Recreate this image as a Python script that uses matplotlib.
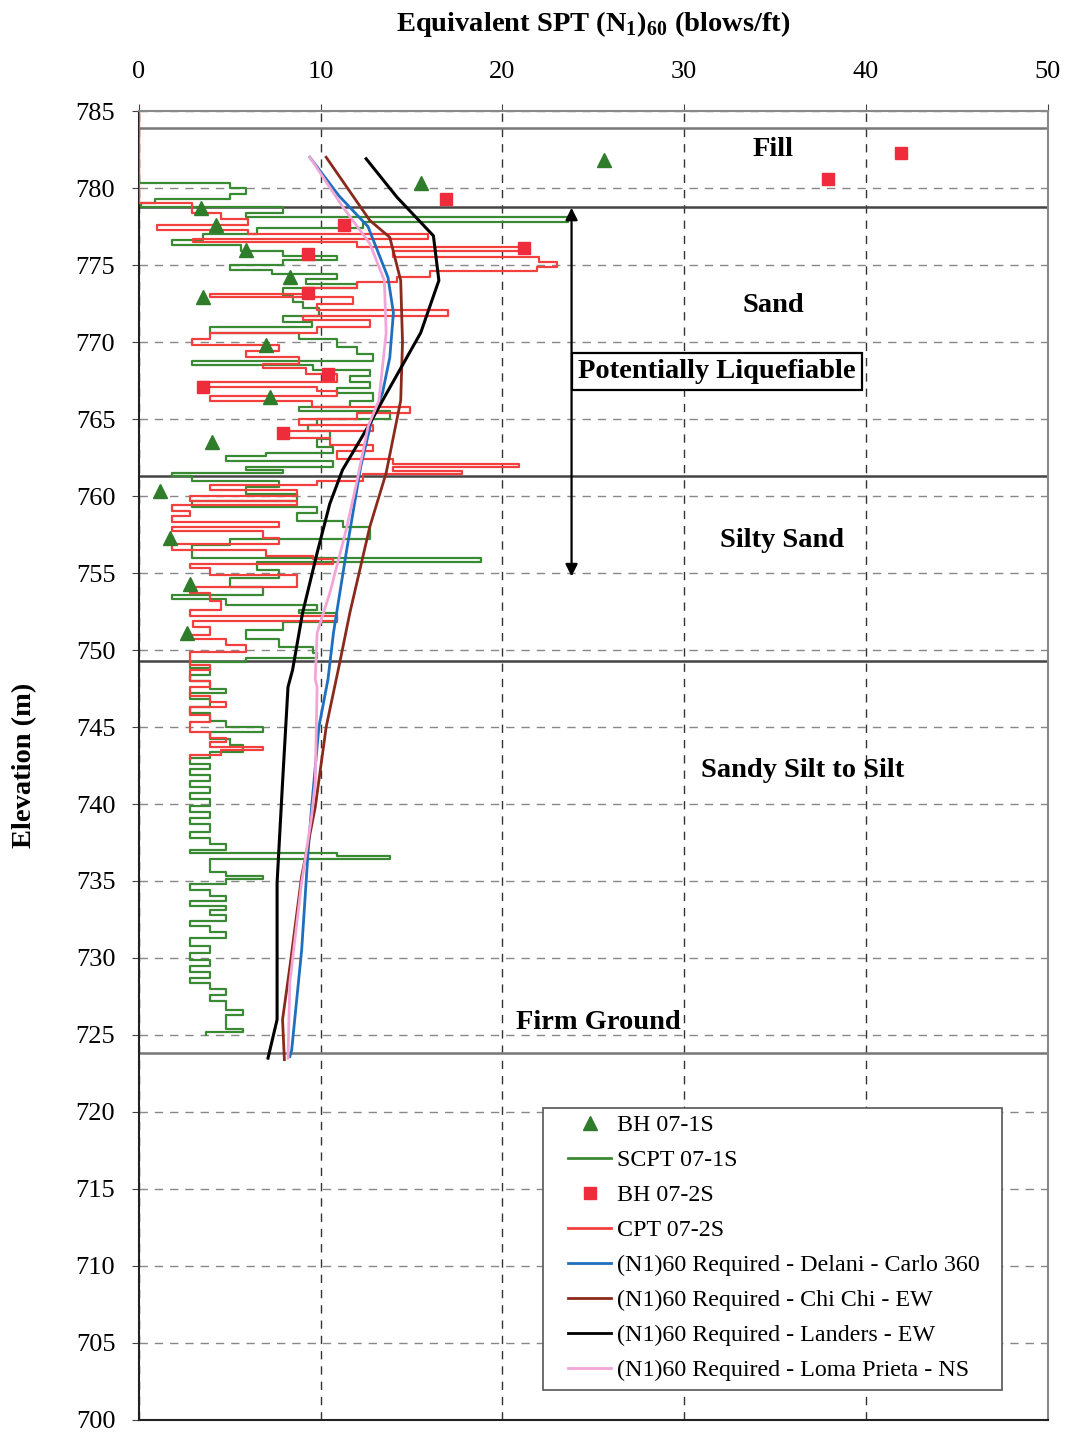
import numpy as np
import matplotlib
matplotlib.use('Agg')
import matplotlib.pyplot as plt
from matplotlib.lines import Line2D
from matplotlib.patches import Rectangle

plt.rcParams['font.family'] = ['Liberation Serif', 'DejaVu Serif']
plt.rcParams['mathtext.fontset'] = 'custom'
plt.rcParams['mathtext.rm'] = 'Liberation Serif:bold'
plt.rcParams['mathtext.bf'] = 'Liberation Serif:bold'

# borehole SPT points (value, elevation)
bh1_val = [25.6, 15.5, 3.4, 4.25, 5.9, 8.3, 3.5, 7.0, 7.2, 4.0, 1.15, 1.7, 2.8, 2.65]
bh1_elev = [781.8, 780.3, 778.7, 777.6, 776.0, 774.2, 772.9, 769.8, 766.4, 763.5, 760.3, 757.3, 754.3, 751.1]
bh2_val = [41.9, 37.9, 16.9, 11.3, 21.2, 9.3, 9.3, 10.4, 3.5, 7.9]
bh2_elev = [782.3, 780.6, 779.3, 777.6, 776.1, 775.7, 773.2, 767.9, 767.1, 764.1]

# SCPT 07-1S step profile
scpt_elev = [780.5, 780.3, 780.0, 779.6, 779.3, 779.0, 778.8, 778.4, 778.1, 777.8,
             777.4, 777.0, 776.6, 776.3, 775.9, 775.6, 775.3, 775.0, 774.7, 774.4,
             774.1, 773.8, 773.5, 773.0, 772.6, 772.2, 771.7, 771.3, 771.0, 770.6,
             770.2, 769.7, 769.2, 768.8, 768.5, 768.2, 767.8, 767.4, 767.0, 766.7,
             766.2, 765.8, 765.5, 765.0, 764.6, 764.2, 763.7, 763.2, 762.8, 762.6,
             762.3, 761.9, 761.7, 761.5, 761.3, 761.0, 760.6, 760.1, 759.7, 759.3,
             758.9, 758.4, 758.0, 757.2, 756.8, 756.0, 755.7, 755.2, 754.7, 754.1,
             753.6, 753.3, 752.9, 752.6, 752.4, 751.8, 751.3, 750.7, 750.2, 749.8,
             749.5, 749.2, 748.8, 748.4, 748.0, 747.5, 747.2, 746.8, 746.3, 745.9,
             745.4, 745.0, 744.7, 744.2, 743.8, 743.4, 743.0, 742.6, 742.3, 741.9,
             741.5, 741.1, 740.7, 740.3, 739.9, 739.5, 739.1, 738.7, 738.2, 737.8,
             737.4, 737.0, 736.8, 736.6, 736.4, 735.6, 735.3, 735.1, 734.8, 734.4,
             734.0, 733.7, 733.4, 733.1, 732.8, 732.4, 732.1, 731.7, 731.3, 730.8,
             730.3, 729.9, 729.5, 729.1, 728.7, 728.4, 728.0, 727.6, 727.2, 726.6,
             726.3, 725.4, 725.2, 725.0]
scpt_val = [0.0, 5.0, 5.9, 5.0, 0.9, 0.1, 7.9, 5.9, 23.6, 12.3,
            6.5, 3.5, 1.8, 5.6, 7.9, 10.9, 7.9, 5.0, 7.3, 10.9,
            9.2, 12.0, 7.9, 8.5, 9.0, 9.9, 7.9, 9.5, 3.9, 8.8,
            10.9, 12.0, 12.9, 2.9, 9.6, 12.7, 11.6, 12.7, 10.9, 12.9,
            11.6, 8.8, 13.8, 9.8, 9.3, 10.5, 9.8, 10.7, 7.0, 4.8,
            10.7, 5.9, 7.9, 1.8, 2.9, 7.7, 5.9, 8.7, 2.9, 9.8,
            8.7, 11.2, 12.7, 5.0, 2.9, 18.8, 6.5, 7.7, 5.0, 6.8,
            1.8, 4.8, 9.8, 8.8, 10.9, 7.9, 5.9, 7.7, 9.6, 9.8,
            5.9, 2.8, 3.9, 2.8, 3.9, 4.8, 2.8, 3.9, 2.8, 3.9,
            4.8, 6.8, 3.9, 5.0, 5.7, 3.9, 2.8, 3.9, 2.8, 3.9,
            2.8, 3.9, 2.8, 3.9, 2.8, 3.9, 2.8, 3.9, 2.8, 3.9,
            4.8, 2.8, 10.9, 13.8, 3.9, 4.8, 6.8, 4.8, 2.8, 3.9,
            4.8, 2.8, 4.8, 3.9, 4.8, 2.8, 3.9, 4.8, 2.8, 3.9,
            2.8, 3.9, 2.8, 3.9, 2.8, 3.9, 4.8, 3.9, 4.8, 5.7,
            4.8, 5.7, 3.7, 3.7]

# CPT 07-2S step profile
cpt_elev = [785.0, 779.0, 778.4, 778.0, 777.6, 777.3, 777.0, 776.7, 776.5, 776.2,
            775.9, 775.5, 775.2, 774.9, 774.6, 774.2, 773.9, 773.5, 773.1, 772.9,
            772.5, 772.1, 771.7, 771.4, 771.0, 770.6, 770.2, 769.8, 769.4, 769.0,
            768.6, 768.3, 767.9, 767.4, 767.1, 766.8, 766.5, 766.2, 765.8, 765.4,
            765.0, 764.6, 764.2, 763.8, 763.3, 762.9, 762.4, 762.1, 761.9, 761.6,
            761.4, 761.0, 760.7, 760.4, 760.0, 759.7, 759.4, 759.0, 758.7, 758.3,
            758.0, 757.7, 757.3, 756.9, 756.5, 756.1, 755.9, 755.6, 755.3, 754.9,
            754.1, 753.7, 753.2, 752.6, 752.2, 751.9, 751.5, 751.0, 750.7, 750.3,
            749.9, 749.0, 748.7, 748.0, 747.6, 747.0, 746.6, 746.3, 745.8, 745.3,
            744.7, 744.3, 744.0, 743.7, 743.5, 743.2, 742.9]
cpt_val = [0.0, 2.9, 4.5, 6.0, 1.0, 6.0, 15.9, 3.0, 12.0, 21.2,
           14.0, 22.0, 23.0, 21.9, 16.0, 14.2, 12.0, 9.0, 3.9, 11.8,
           9.8, 17.0, 9.0, 12.7, 9.8, 3.9, 2.9, 7.7, 5.9, 8.8,
           6.8, 9.2, 10.9, 3.3, 9.8, 10.9, 3.9, 9.5, 14.9, 12.0,
           8.8, 12.9, 7.9, 10.5, 12.9, 10.9, 14.0, 20.9, 14.0, 17.8,
           12.3, 9.8, 3.9, 8.7, 2.8, 8.7, 1.8, 2.8, 1.8, 7.7,
           1.8, 6.8, 7.7, 1.8, 7.0, 9.6, 10.7, 2.8, 3.9, 8.7,
           2.8, 3.9, 4.5, 2.8, 10.9, 3.0, 3.9, 2.8, 4.8, 5.9,
           2.8, 3.9, 2.8, 3.9, 2.8, 3.9, 4.8, 2.8, 3.9, 2.8,
           3.9, 4.8, 3.9, 6.8, 4.5, 2.8, 2.8]

# required (N1)60 curves
delani_elev = [782.0, 779.5, 777.5, 774.2, 771.9, 769.0, 766.7, 764.9, 761.9, 756.3,
               751.1, 748.1, 745.0, 739.8, 736.8, 730.5, 724.0, 723.6]
delani_val = [9.4, 11.0, 12.6, 13.7, 14.0, 13.8, 13.4, 12.8, 12.2, 11.4,
              10.7, 10.4, 9.9, 9.5, 9.3, 8.95, 8.4, 8.3]
chichi_elev = [782.0, 777.9, 776.8, 774.0, 770.0, 766.2, 761.5, 758.0, 752.4, 749.2,
               745.0, 739.8, 735.3, 729.4, 726.0, 723.4]
chichi_val = [10.3, 12.7, 13.8, 14.4, 14.5, 14.4, 13.6, 12.7, 11.6, 11.05,
              10.3, 9.7, 8.95, 8.3, 7.9, 8.0]
landers_elev = [781.9, 779.4, 776.9, 774.0, 770.6, 766.2, 764.7, 761.7, 759.5, 756.3,
                752.4, 748.7, 747.6, 741.4, 734.9, 726.0, 723.5]
landers_val = [12.5, 14.2, 16.2, 16.5, 15.5, 13.4, 12.7, 11.2, 10.5, 9.8,
               9.0, 8.45, 8.2, 7.9, 7.6, 7.6, 7.1]
loma_elev = [782.0, 778.8, 776.4, 774.0, 770.6, 766.2, 764.5, 761.0, 757.8, 753.7,
             751.1, 748.1, 747.6, 741.4, 739.2, 734.9, 728.4, 723.5]
loma_val = [9.4, 11.2, 12.7, 13.5, 13.6, 13.2, 12.6, 12.0, 11.4, 10.5,
            9.8, 9.7, 9.8, 9.7, 9.5, 8.95, 8.3, 8.2]

layer_tops = [783.9, 778.8, 761.3, 749.3, 723.8]
layer_names = ['Fill', 'Sand', 'Silty Sand', 'Sandy Silt to Silt', 'Firm Ground']
layer_label_pos = [(34.9, 782.5), (34.9, 772.4), (35.4, 757.1), (36.5, 742.2), (25.3, 725.8)]

green = '#3a8a34'
red = '#f2403f'

fig = plt.figure(figsize=(10.73, 14.33), dpi=100)
ax = fig.add_axes([0.1295, 0.0091, 0.847, 0.9134])

ax.set_xlim(0, 50)
ax.set_ylim(700, 785)
ax.set_xticks(np.arange(0, 51, 10))
ax.set_yticks(np.arange(700, 786, 5))
ax.xaxis.tick_top()
ax.xaxis.set_label_position('top')
ax.tick_params(axis='both', labelsize=19, length=5, color='#444')
ax.tick_params(axis='x', pad=15)
ax.tick_params(axis='y', pad=12)
ax.grid(True, axis='y', linestyle=(0, (6, 5)), color='#888', lw=1.0)
ax.grid(True, axis='x', linestyle=(0, (6, 5)), color='#333', lw=1.0)
ax.set_axisbelow(True)
for s in ['top', 'right']:
    ax.spines[s].set_color('#888')
    ax.spines[s].set_linewidth(1.5)
for s in ['left', 'bottom']:
    ax.spines[s].set_color('#222')
    ax.spines[s].set_linewidth(1.5)

# layer boundaries
for i, e in enumerate(layer_tops):
    c = '#777' if i in (0, 4) else '#444'
    ax.axhline(e, color=c, lw=1.8, zorder=1)

ax.plot(scpt_val, scpt_elev, drawstyle='steps-pre', color=green, lw=1.6, zorder=3)
ax.plot(cpt_val, cpt_elev, drawstyle='steps-pre', color=red, lw=1.6, zorder=3)

ax.plot(delani_val, delani_elev, color='#1f6fbf', lw=2.0, zorder=4)
ax.plot(chichi_val, chichi_elev, color='#8a2a1c', lw=2.0, zorder=4)
ax.plot(landers_val, landers_elev, color='black', lw=2.2, zorder=4)
ax.plot(loma_val, loma_elev, color='#f2a6d8', lw=2.0, zorder=4)

ax.plot(bh1_val, bh1_elev, '^', color='#2f7d2a', ms=10, ls='none', zorder=5)
ax.plot(bh2_val, bh2_elev, 's', color='#ee2c3c', ms=9, ls='none', zorder=5)

for name, (x, y) in zip(layer_names, layer_label_pos):
    ax.text(x, y, name, fontsize=20.5, fontweight='bold', ha='center', va='center', zorder=6)

ax.annotate('', xy=(23.8, 778.9), xytext=(23.8, 754.6),
            arrowprops=dict(arrowstyle='<|-|>', color='black', lw=1.6, mutation_scale=18),
            zorder=6)
ax.text(31.8, 768.1, 'Potentially Liquefiable', fontsize=20.5, fontweight='bold',
        ha='center', va='center', zorder=7,
        bbox=dict(boxstyle='square,pad=0.22', fc='white', ec='black', lw=1.6))

ax.set_xlabel(r'Equivalent SPT (N$_1$)$_{60}$ (blows/ft)', fontsize=20.5, fontweight='bold', labelpad=22)
ax.set_ylabel('Elevation (m)', fontsize=20.5, fontweight='bold', labelpad=28)

# legend frame drawn by hand so the padding matches
ax.add_patch(Rectangle((0.4444, 0.0229), 0.505, 0.2155, transform=ax.transAxes,
                       fc='white', ec='#555', lw=1.2, zorder=8))

handles = [
    Line2D([], [], marker='^', color='#2f7d2a', ls='none', ms=10),
    Line2D([], [], color=green, lw=2),
    Line2D([], [], marker='s', color='#ee2c3c', ls='none', ms=9),
    Line2D([], [], color=red, lw=2),
    Line2D([], [], color='#1f6fbf', lw=2),
    Line2D([], [], color='#8a2a1c', lw=2),
    Line2D([], [], color='black', lw=2),
    Line2D([], [], color='#f2a6d8', lw=2),
]
labels = ['BH 07-1S', 'SCPT 07-1S', 'BH 07-2S', 'CPT 07-2S',
          '(N1)60 Required - Delani - Carlo 360', '(N1)60 Required - Chi Chi - EW',
          '(N1)60 Required - Landers - EW', '(N1)60 Required - Loma Prieta - NS']
leg = ax.legend(handles, labels, loc='upper left', bbox_to_anchor=(0.472, 0.2335),
                fontsize=17.3, frameon=False,
                handlelength=1.8, handletextpad=0.25, labelspacing=0.55, borderpad=0,
                borderaxespad=0)
leg.set_zorder(9)

fig.savefig('out.png', dpi=100)
